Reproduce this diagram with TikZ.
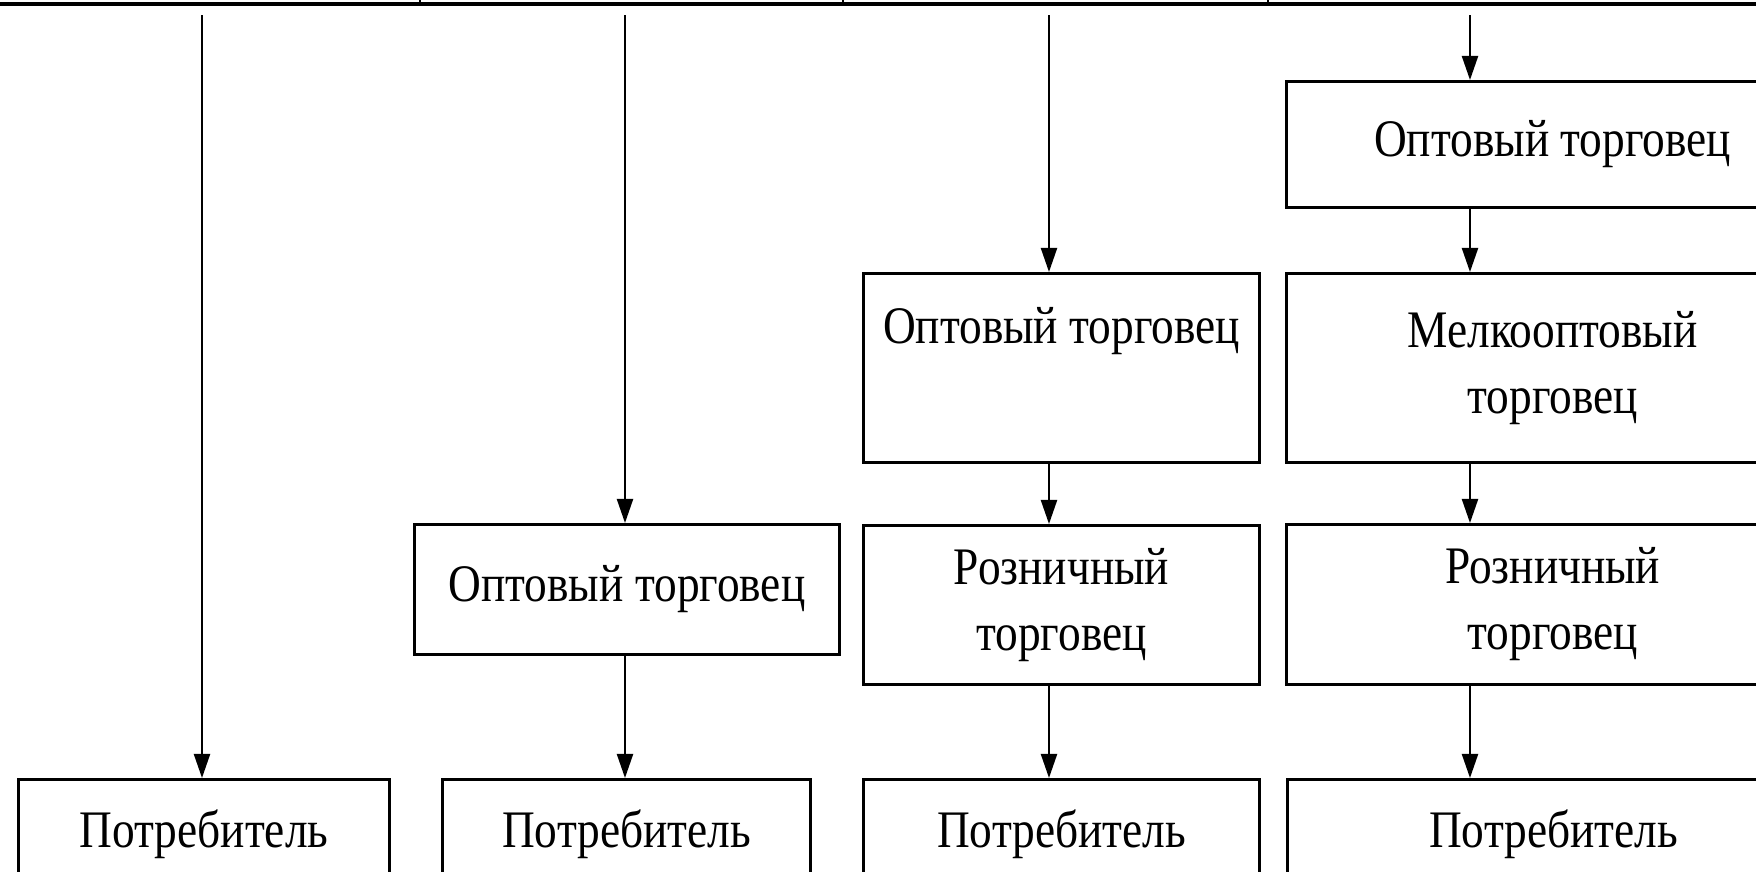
\documentclass[tikz,border=0pt]{standalone}
\usepackage{fontspec}
\setmainfont{Liberation Serif}[FakeStretch=0.86]
\usetikzlibrary{arrows.meta}
\tikzset{chain/.style={x=0.01cm,y=-0.01cm,font=\fontsize{15}{18.8}\selectfont},
  agent/.style 2 args={draw,line width=0.8pt,anchor=north west,align=center,
    inner sep=0pt,minimum width=#1cm,minimum height=#2cm},
  flow/.style={line width=0.6pt,-{Triangle[length=2.4mm,width=1.6mm]}}}

\begin{document}
\begin{tikzpicture}[chain]
    \useasboundingbox (0,0) rectangle (1756,872);
    \clip (0,0) rectangle (1756,872);
    \draw[line width=0.9pt] (0,4) -- (1756,4); % bottom edge of the cut-off top row
    \foreach \x in {420,843,1268} \draw[line width=0.8pt] (\x,0) -- (\x,4); % cell dividers
    \foreach \c/\x in {1/202,2/625,3/1049,4/1470} \coordinate (c\c) at (\x,15); % channel starts
    % level 0
    \node[agent={3.71}{1.10}] (p1) at (17,778) {Потребитель};
    % level 1
    \node[agent={4.25}{1.30}] (w2) at (413,523) {Оптовый торговец};
    \node[agent={3.68}{1.10}] (p2) at (441,778) {Потребитель};
    % level 2
    \node[agent={3.96}{1.89}] (w3) at (862,272) {Оптовый торговец\\\strut};
    \node[agent={3.96}{1.59}] (r3) at (862,524) {Розничный\\торговец};
    \node[agent={3.96}{1.10}] (p3) at (862,778) {Потребитель};
    % level 3
    \node[agent={5.32}{1.26}] (w4) at (1285,80) {Оптовый торговец};
    \node[agent={5.32}{1.89}] (s4) at (1285,272) {Мелкооптовый\\торговец};
    \node[agent={5.32}{1.60}] (r4) at (1285,523) {Розничный\\торговец};
    \node[agent={5.32}{1.10}] (p4) at (1286,778) {Потребитель};
    % arrows
    \draw[flow] (c1) -- (c1 |- p1.north);
    \draw[flow] (c2) -- (c2 |- w2.north);
    \draw[flow] (w2.south -| c2) -- (c2 |- p2.north);
    \draw[flow] (c3) -- (c3 |- w3.north);
    \draw[flow] (w3.south -| c3) -- (c3 |- r3.north);
    \draw[flow] (r3.south -| c3) -- (c3 |- p3.north);
    \draw[flow] (c4) -- (c4 |- w4.north);
    \draw[flow] (w4.south -| c4) -- (c4 |- s4.north);
    \draw[flow] (s4.south -| c4) -- (c4 |- r4.north);
    \draw[flow] (r4.south -| c4) -- (c4 |- p4.north);
\end{tikzpicture}
\end{document}
